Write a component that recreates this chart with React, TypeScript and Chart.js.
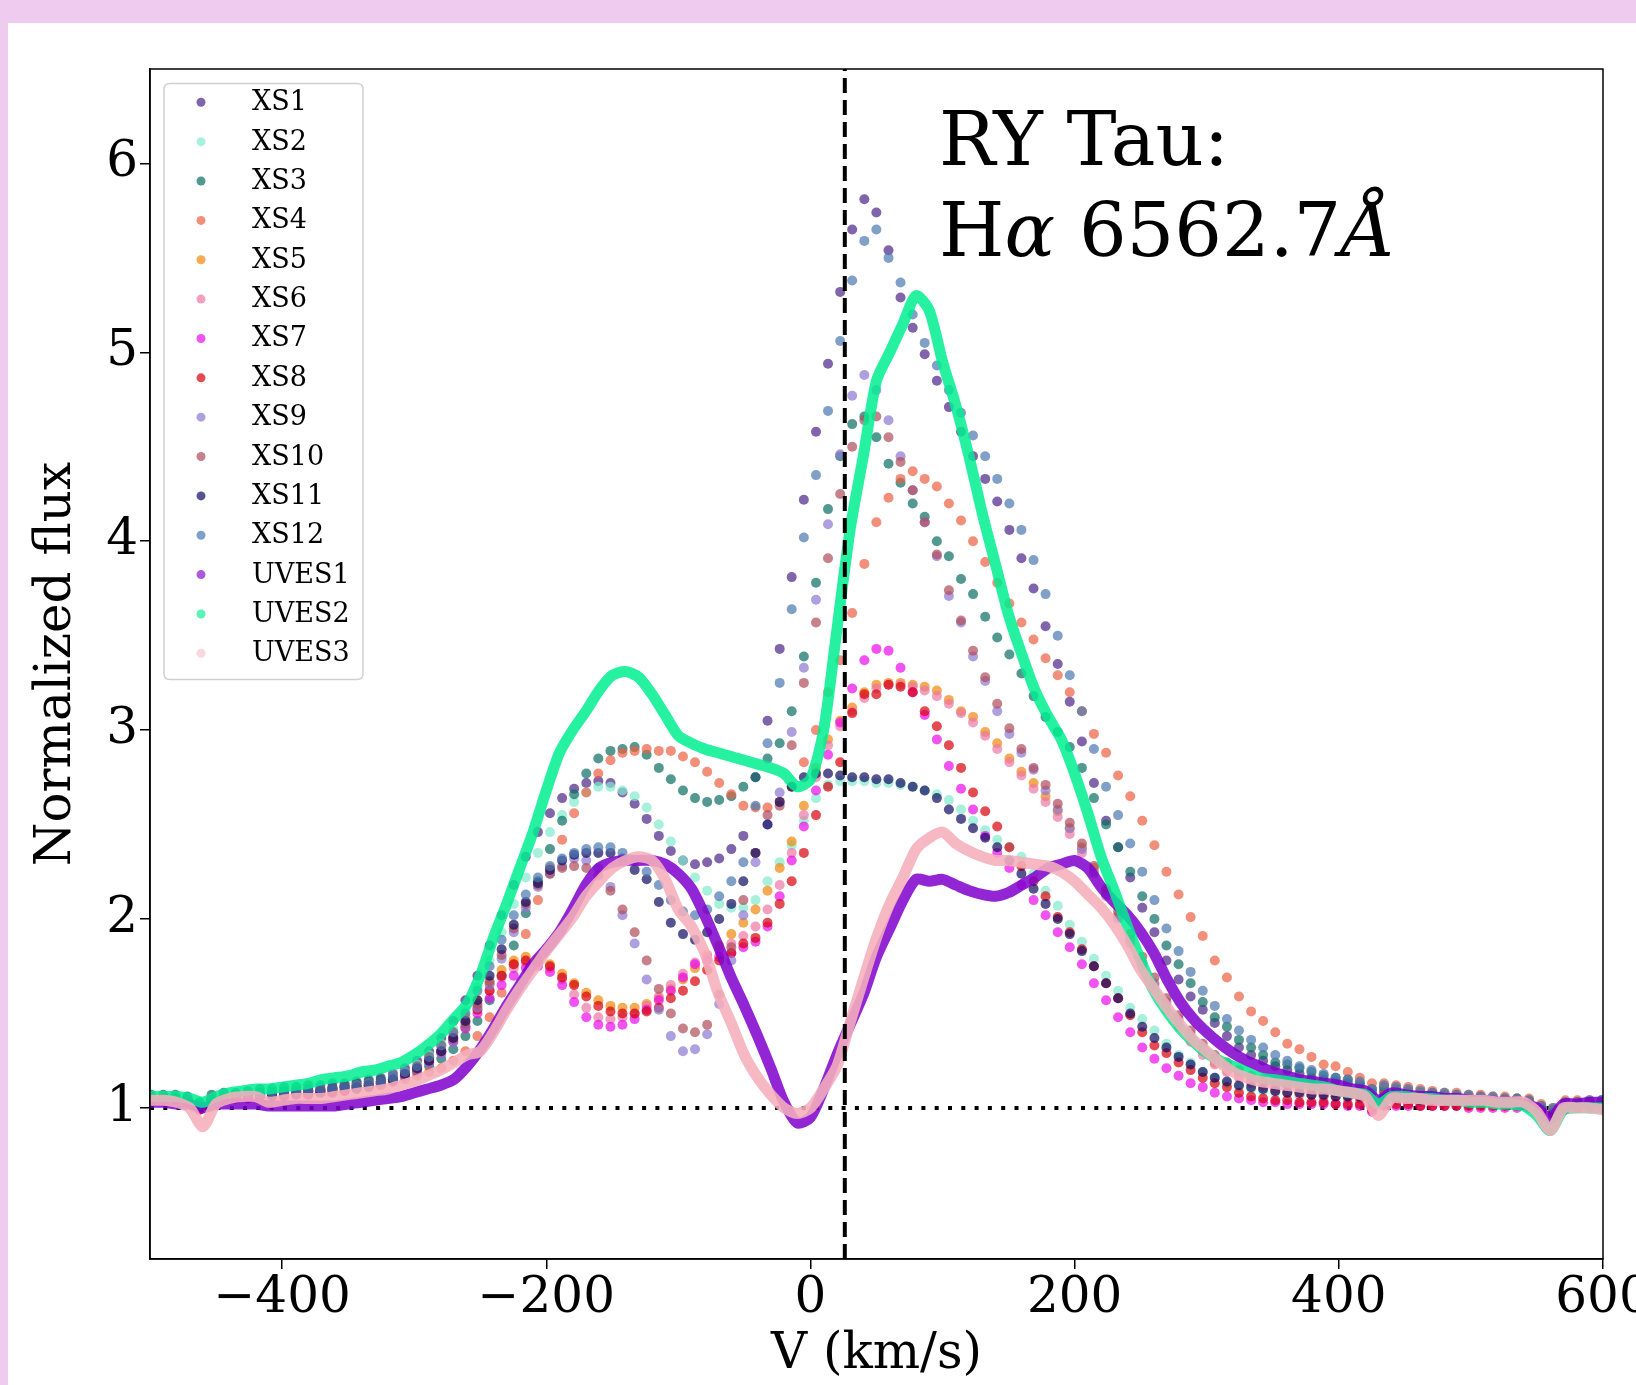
import React, { useEffect, useRef } from "react";
import { Chart, registerables } from "chart.js";

Chart.register(...registerables);

const FONT = '"DejaVu Serif", serif';

// ---------- axes ----------
const X_MIN = -500;
const X_MAX = 600;
const Y_MIN = 0.2;
const Y_MAX = 6.5;
const X_TICKS = [-400, -200, 0, 200, 400, 600];
const Y_TICKS = [1, 2, 3, 4, 5, 6];
const V_SYS = 26; // dashed vertical reference (km/s)
const CONTINUUM = 1; // dotted horizontal reference

// ---------- X-shooter velocity grid (km/s) ----------
const XS_V = [
  -499.1, -490.0, -480.8, -471.7, -462.5, -453.4, -444.2, -435.1, -425.9, -416.8,
  -407.6, -398.5, -389.3, -380.2, -371.0, -361.9, -352.7, -343.6, -334.4, -325.3,
  -316.1, -307.0, -297.8, -288.7, -279.5, -270.4, -261.2, -252.1, -242.9, -233.8,
  -224.6, -215.5, -206.3, -197.2, -188.0, -178.9, -169.7, -160.6, -151.4, -142.3,
  -133.1, -124.0, -114.8, -105.7, -96.5, -87.4, -78.2, -69.1, -59.9, -50.8,
  -41.6, -32.5, -23.3, -14.2, -5.0, 4.2, 13.3, 22.5, 31.6, 40.8,
  49.9, 59.1, 68.2, 77.4, 86.5, 95.7, 104.8, 114.0, 123.1, 132.3,
  141.4, 150.6, 159.7, 168.9, 178.0, 187.2, 196.3, 205.5, 214.6, 223.8,
  232.9, 242.1, 251.2, 260.4, 269.5, 278.7, 287.8, 297.0, 306.1, 315.3,
  324.4, 333.6, 342.7, 351.9, 361.0, 370.2, 379.3, 388.5, 397.6, 406.8,
  415.9, 425.1, 434.2, 443.4, 452.5, 461.7, 470.8, 480.0, 489.1, 498.3,
  507.4, 516.6, 525.7, 534.9, 544.0, 553.2, 562.3, 571.5, 580.6, 589.8,
  598.9,
];

const XS1 = [
  1.06, 1.06, 1.05, 1.05, 1.01, 1.05, 1.06, 1.07, 1.07, 1.08,
  1.08, 1.09, 1.09, 1.10, 1.10, 1.11, 1.12, 1.13, 1.14, 1.16,
  1.18, 1.21, 1.25, 1.30, 1.37, 1.46, 1.57, 1.70, 1.86, 2.02,
  2.18, 2.33, 2.46, 2.56, 2.64, 2.69, 2.72, 2.73, 2.72, 2.67,
  2.61, 2.53, 2.44, 2.36, 2.31, 2.29, 2.30, 2.32, 2.37, 2.44,
  2.75, 3.05, 3.43, 3.81, 4.22, 4.58, 4.94, 5.32, 5.65, 5.81,
  5.74, 5.54, 5.29, 5.13, 4.99, 4.85, 4.71, 4.58, 4.45, 4.33,
  4.21, 4.06, 3.91, 3.75, 3.55, 3.35, 3.15, 2.94, 2.72, 2.52,
  2.38, 2.22, 2.06, 1.93, 1.78, 1.68, 1.59, 1.52, 1.45, 1.38,
  1.32, 1.28, 1.25, 1.22, 1.20, 1.18, 1.16, 1.15, 1.14, 1.13,
  1.12, 1.08, 1.09, 1.09, 1.08, 1.07, 1.07, 1.06, 1.06, 1.05,
  1.05, 1.04, 1.04, 1.04, 1.03, 1.00, 0.99, 1.02, 1.03, 1.03,
  1.04,
];

const XS2 = [
  1.06, 1.06, 1.05, 1.05, 1.02, 1.05, 1.06, 1.06, 1.07, 1.07,
  1.08, 1.08, 1.09, 1.09, 1.10, 1.10, 1.11, 1.12, 1.13, 1.14,
  1.16, 1.19, 1.23, 1.28, 1.34, 1.42, 1.52, 1.64, 1.78, 1.93,
  2.08, 2.22, 2.35, 2.46, 2.55, 2.62, 2.67, 2.70, 2.70, 2.68,
  2.65, 2.59, 2.50, 2.41, 2.31, 2.22, 2.15, 2.08, 2.06, 2.06,
  2.10, 2.20, 2.30, 2.39, 2.52, 2.64, 2.71, 2.73, 2.73, 2.73,
  2.72, 2.72, 2.71, 2.70, 2.68, 2.66, 2.63, 2.58, 2.52, 2.47,
  2.42, 2.38, 2.33, 2.24, 2.15, 2.07, 1.97, 1.88, 1.79, 1.70,
  1.62, 1.53, 1.47, 1.41, 1.34, 1.28, 1.24, 1.19, 1.16, 1.13,
  1.11, 1.10, 1.09, 1.08, 1.08, 1.07, 1.07, 1.06, 1.06, 1.06,
  1.05, 1.02, 1.05, 1.04, 1.04, 1.04, 1.04, 1.03, 1.03, 1.03,
  1.03, 1.03, 1.02, 1.02, 1.02, 0.98, 0.96, 1.01, 1.02, 1.02,
  1.02,
];

const XS3 = [
  1.07, 1.07, 1.07, 1.06, 1.03, 1.07, 1.08, 1.08, 1.09, 1.10,
  1.10, 1.11, 1.11, 1.12, 1.12, 1.13, 1.13, 1.14, 1.15, 1.15,
  1.16, 1.17, 1.19, 1.22, 1.26, 1.31, 1.38, 1.46, 1.57, 1.70,
  1.86, 2.03, 2.20, 2.37, 2.52, 2.66, 2.77, 2.85, 2.89, 2.90,
  2.91, 2.87, 2.80, 2.74, 2.68, 2.64, 2.62, 2.63, 2.65, 2.70,
  2.75, 2.85, 2.93, 3.10, 3.39, 3.78, 4.17, 4.45, 4.62, 4.66,
  4.55, 4.41, 4.31, 4.20, 4.13, 4.00, 3.92, 3.80, 3.72, 3.60,
  3.49, 3.40, 3.30, 3.18, 3.07, 2.99, 2.91, 2.80, 2.64, 2.50,
  2.38, 2.25, 2.12, 2.00, 1.86, 1.76, 1.66, 1.56, 1.48, 1.43,
  1.36, 1.32, 1.28, 1.24, 1.23, 1.21, 1.19, 1.17, 1.16, 1.15,
  1.13, 1.10, 1.11, 1.10, 1.09, 1.08, 1.08, 1.07, 1.07, 1.06,
  1.06, 1.05, 1.05, 1.05, 1.04, 1.01, 0.99, 1.03, 1.03, 1.03,
  1.03,
];

const XS4 = [
  1.05, 1.05, 1.05, 1.04, 1.01, 1.05, 1.06, 1.06, 1.06, 1.07,
  1.07, 1.08, 1.08, 1.09, 1.09, 1.10, 1.11, 1.11, 1.12, 1.13,
  1.14, 1.15, 1.17, 1.19, 1.21, 1.25, 1.30, 1.38, 1.48, 1.61,
  1.76, 1.92, 2.10, 2.27, 2.42, 2.56, 2.67, 2.77, 2.84, 2.88,
  2.89, 2.90, 2.89, 2.89, 2.86, 2.83, 2.78, 2.72, 2.66, 2.60,
  2.59, 2.59, 2.62, 2.70, 2.83, 3.00, 3.20, 3.37, 3.62, 3.88,
  4.10, 4.23, 4.33, 4.37, 4.33, 4.29, 4.20, 4.11, 4.00, 3.89,
  3.78, 3.67, 3.57, 3.48, 3.38, 3.29, 3.20, 3.10, 2.98, 2.88,
  2.76, 2.65, 2.52, 2.39, 2.25, 2.13, 2.01, 1.91, 1.78, 1.69,
  1.59, 1.51, 1.46, 1.40, 1.34, 1.31, 1.27, 1.23, 1.22, 1.19,
  1.16, 1.13, 1.13, 1.12, 1.11, 1.10, 1.09, 1.08, 1.08, 1.07,
  1.07, 1.06, 1.06, 1.05, 1.05, 1.02, 1.00, 1.04, 1.04, 1.04,
  1.03,
];

const XS5 = [
  1.05, 1.05, 1.05, 1.04, 1.00, 1.05, 1.05, 1.06, 1.06, 1.06,
  1.07, 1.07, 1.08, 1.08, 1.09, 1.09, 1.10, 1.11, 1.12, 1.13,
  1.15, 1.18, 1.22, 1.27, 1.33, 1.40, 1.48, 1.57, 1.66, 1.73,
  1.78, 1.80, 1.79, 1.76, 1.71, 1.66, 1.61, 1.57, 1.54, 1.53,
  1.53, 1.55, 1.58, 1.63, 1.68, 1.74, 1.80, 1.86, 1.92, 1.98,
  2.05, 2.15, 2.27, 2.41, 2.60, 2.80, 2.95, 3.05, 3.12, 3.20,
  3.24, 3.25, 3.25, 3.24, 3.23, 3.21, 3.16, 3.10, 3.07, 2.99,
  2.93, 2.85, 2.78, 2.72, 2.65, 2.57, 2.48, 2.38, 2.27, 2.15,
  2.02, 1.89, 1.77, 1.65, 1.54, 1.45, 1.37, 1.30, 1.24, 1.20,
  1.17, 1.14, 1.12, 1.10, 1.09, 1.08, 1.07, 1.07, 1.06, 1.06,
  1.05, 1.02, 1.05, 1.04, 1.04, 1.04, 1.03, 1.03, 1.03, 1.03,
  1.03, 1.02, 1.02, 1.02, 1.02, 0.99, 0.98, 1.01, 1.02, 1.02,
  1.02,
];

const XS6 = [
  1.05, 1.05, 1.04, 1.04, 1.00, 1.04, 1.05, 1.05, 1.06, 1.06,
  1.06, 1.07, 1.07, 1.08, 1.08, 1.09, 1.09, 1.10, 1.11, 1.13,
  1.15, 1.18, 1.21, 1.25, 1.31, 1.38, 1.46, 1.54, 1.62, 1.69,
  1.74, 1.77, 1.77, 1.74, 1.68, 1.60, 1.53, 1.48, 1.47, 1.48,
  1.50, 1.54, 1.59, 1.65, 1.71, 1.77, 1.81, 1.84, 1.87, 1.91,
  1.96, 2.05, 2.18, 2.35, 2.55, 2.75, 2.92, 3.02, 3.10, 3.17,
  3.22, 3.24, 3.24, 3.23, 3.21, 3.18, 3.14, 3.09, 3.04, 2.97,
  2.90, 2.83, 2.76, 2.69, 2.62, 2.54, 2.45, 2.35, 2.24, 2.12,
  2.00, 1.87, 1.75, 1.63, 1.52, 1.43, 1.35, 1.28, 1.23, 1.19,
  1.16, 1.13, 1.11, 1.09, 1.08, 1.07, 1.07, 1.06, 1.06, 1.05,
  1.05, 1.01, 1.04, 1.04, 1.04, 1.03, 1.03, 1.03, 1.03, 1.02,
  1.02, 1.02, 1.02, 1.02, 1.01, 0.98, 0.97, 1.01, 1.01, 1.02,
  1.02,
];

const XS7 = [
  1.04, 1.04, 1.04, 1.03, 0.99, 1.04, 1.04, 1.05, 1.05, 1.06,
  1.06, 1.06, 1.07, 1.07, 1.08, 1.08, 1.09, 1.10, 1.11, 1.13,
  1.15, 1.17, 1.20, 1.24, 1.29, 1.35, 1.42, 1.50, 1.58, 1.65,
  1.70, 1.74, 1.75, 1.72, 1.65, 1.56, 1.48, 1.44, 1.43, 1.44,
  1.47, 1.52, 1.57, 1.62, 1.69, 1.76, 1.78, 1.80, 1.82, 1.85,
  1.88, 1.96, 2.12, 2.31, 2.49, 2.68, 2.87, 3.04, 3.22, 3.37,
  3.43, 3.42, 3.33, 3.20, 3.08, 2.95, 2.81, 2.69, 2.58, 2.44,
  2.35, 2.27, 2.18, 2.10, 2.02, 1.93, 1.85, 1.76, 1.66, 1.57,
  1.48, 1.40, 1.32, 1.26, 1.21, 1.17, 1.13, 1.11, 1.08, 1.06,
  1.05, 1.04, 1.03, 1.03, 1.02, 1.02, 1.02, 1.02, 1.02, 1.01,
  1.01, 0.98, 1.01, 1.01, 1.01, 1.01, 1.01, 1.01, 1.01, 1.00,
  1.00, 1.00, 1.00, 1.00, 1.00, 0.97, 0.96, 0.99, 1.00, 1.00,
  1.00,
];

const XS8 = [
  1.04, 1.04, 1.04, 1.03, 0.99, 1.04, 1.05, 1.05, 1.05, 1.06,
  1.06, 1.06, 1.07, 1.07, 1.08, 1.08, 1.09, 1.10, 1.11, 1.12,
  1.14, 1.17, 1.20, 1.25, 1.30, 1.36, 1.43, 1.52, 1.62, 1.70,
  1.76, 1.78, 1.77, 1.75, 1.69, 1.65, 1.59, 1.54, 1.51, 1.50,
  1.50, 1.51, 1.53, 1.58, 1.62, 1.67, 1.73, 1.78, 1.82, 1.87,
  1.90, 1.98, 2.08, 2.20, 2.35, 2.55, 2.70, 2.83, 3.09, 3.19,
  3.19, 3.24, 3.23, 3.20, 3.10, 3.02, 2.92, 2.80, 2.67, 2.57,
  2.49, 2.38, 2.28, 2.20, 2.12, 2.01, 1.93, 1.84, 1.75, 1.66,
  1.58, 1.49, 1.40, 1.33, 1.29, 1.24, 1.20, 1.16, 1.13, 1.11,
  1.08, 1.06, 1.05, 1.04, 1.04, 1.03, 1.03, 1.03, 1.02, 1.02,
  1.02, 0.99, 1.02, 1.02, 1.02, 1.01, 1.01, 1.01, 1.01, 1.01,
  1.01, 1.01, 1.01, 1.01, 1.01, 0.98, 0.97, 1.00, 1.00, 1.01,
  1.01,
];

const XS9 = [
  1.05, 1.05, 1.05, 1.04, 1.01, 1.05, 1.05, 1.06, 1.06, 1.07,
  1.07, 1.08, 1.08, 1.09, 1.09, 1.10, 1.11, 1.11, 1.12, 1.13,
  1.15, 1.17, 1.20, 1.24, 1.29, 1.35, 1.43, 1.53, 1.65, 1.79,
  1.93, 2.06, 2.17, 2.24, 2.28, 2.32, 2.31, 2.27, 2.17, 2.02,
  1.87, 1.68, 1.52, 1.38, 1.30, 1.31, 1.39, 1.55, 1.78, 2.02,
  2.30, 2.50, 2.67, 2.99, 3.33, 3.69, 4.09, 4.46, 4.77, 4.88,
  4.80, 4.64, 4.45, 4.27, 4.10, 3.92, 3.71, 3.57, 3.39, 3.26,
  3.10, 2.98, 2.88, 2.79, 2.68, 2.58, 2.48, 2.37, 2.25, 2.13,
  2.01, 1.89, 1.77, 1.66, 1.56, 1.47, 1.39, 1.32, 1.27, 1.23,
  1.19, 1.16, 1.14, 1.12, 1.11, 1.10, 1.09, 1.08, 1.08, 1.07,
  1.07, 1.04, 1.06, 1.06, 1.05, 1.05, 1.05, 1.04, 1.04, 1.04,
  1.04, 1.03, 1.03, 1.03, 1.03, 1.00, 0.98, 1.02, 1.02, 1.03,
  1.03,
];

const XS10 = [
  1.06, 1.06, 1.05, 1.05, 1.01, 1.05, 1.06, 1.06, 1.07, 1.07,
  1.08, 1.08, 1.09, 1.09, 1.10, 1.10, 1.11, 1.12, 1.13, 1.14,
  1.15, 1.18, 1.21, 1.25, 1.30, 1.37, 1.45, 1.55, 1.67, 1.81,
  1.95, 2.08, 2.18, 2.24, 2.27, 2.28, 2.27, 2.23, 2.15, 2.05,
  1.93, 1.78, 1.63, 1.50, 1.42, 1.40, 1.44, 1.60, 1.85, 2.10,
  2.35, 2.55, 2.60, 2.92, 3.25, 3.57, 3.91, 4.25, 4.50, 4.64,
  4.66, 4.55, 4.42, 4.27, 4.10, 3.93, 3.74, 3.58, 3.42, 3.28,
  3.14, 3.01, 2.90, 2.80, 2.71, 2.61, 2.51, 2.40, 2.28, 2.16,
  2.04, 1.92, 1.80, 1.69, 1.58, 1.49, 1.41, 1.34, 1.28, 1.24,
  1.20, 1.17, 1.15, 1.13, 1.12, 1.11, 1.10, 1.09, 1.08, 1.08,
  1.07, 1.04, 1.07, 1.06, 1.06, 1.05, 1.05, 1.05, 1.04, 1.04,
  1.04, 1.04, 1.03, 1.03, 1.03, 1.00, 0.98, 1.02, 1.03, 1.03,
  1.03,
];

const XS11 = [
  1.05, 1.05, 1.05, 1.04, 1.00, 1.04, 1.05, 1.06, 1.06, 1.07,
  1.07, 1.08, 1.08, 1.09, 1.09, 1.10, 1.11, 1.11, 1.12, 1.14,
  1.15, 1.18, 1.21, 1.25, 1.30, 1.37, 1.46, 1.57, 1.70, 1.84,
  1.97, 2.09, 2.19, 2.26, 2.31, 2.34, 2.35, 2.35, 2.35, 2.32,
  2.26, 2.21, 2.09, 1.98, 1.92, 1.89, 1.93, 2.00, 2.08, 2.20,
  2.35, 2.50, 2.62, 2.70, 2.75, 2.77, 2.77, 2.76, 2.75, 2.75,
  2.74, 2.74, 2.72, 2.70, 2.68, 2.64, 2.58, 2.53, 2.48, 2.43,
  2.38, 2.31, 2.24, 2.16, 2.08, 2.00, 1.92, 1.83, 1.75, 1.66,
  1.58, 1.50, 1.43, 1.37, 1.32, 1.27, 1.23, 1.19, 1.16, 1.14,
  1.12, 1.11, 1.10, 1.09, 1.08, 1.08, 1.07, 1.07, 1.06, 1.06,
  1.06, 1.03, 1.05, 1.05, 1.05, 1.04, 1.04, 1.04, 1.04, 1.03,
  1.03, 1.03, 1.03, 1.02, 1.02, 0.99, 0.97, 1.01, 1.02, 1.02,
  1.02,
];

const XS12 = [
  1.05, 1.05, 1.05, 1.04, 1.02, 1.05, 1.06, 1.06, 1.07, 1.07,
  1.08, 1.08, 1.09, 1.09, 1.10, 1.10, 1.11, 1.12, 1.13, 1.14,
  1.16, 1.19, 1.22, 1.27, 1.33, 1.40, 1.50, 1.62, 1.75, 1.89,
  2.02, 2.13, 2.22, 2.28, 2.32, 2.35, 2.37, 2.38, 2.38, 2.35,
  2.31, 2.25, 2.18, 2.10, 2.04, 2.02, 2.05, 2.12, 2.20, 2.30,
  2.60, 2.93, 3.25, 3.64, 4.02, 4.35, 4.69, 5.06, 5.38, 5.59,
  5.65, 5.50, 5.37, 5.20, 5.05, 4.93, 4.80, 4.68, 4.56, 4.45,
  4.33, 4.20, 4.06, 3.90, 3.72, 3.50, 3.29, 3.10, 2.90, 2.70,
  2.55, 2.40, 2.25, 2.10, 1.95, 1.83, 1.72, 1.62, 1.54, 1.47,
  1.41, 1.36, 1.32, 1.28, 1.25, 1.22, 1.20, 1.18, 1.16, 1.15,
  1.14, 1.10, 1.12, 1.11, 1.10, 1.09, 1.08, 1.08, 1.07, 1.07,
  1.06, 1.06, 1.05, 1.05, 1.04, 1.01, 1.00, 1.03, 1.03, 1.04,
  1.04,
];

// ---------- UVES velocity grid (km/s) ----------
const UVES_V = [
  -500, -490, -480, -470, -460, -450, -440, -430, -420, -410,
  -400, -390, -380, -370, -360, -350, -340, -330, -320, -310,
  -300, -290, -280, -270, -260, -250, -240, -230, -220, -210,
  -200, -190, -180, -170, -160, -150, -140, -130, -120, -110,
  -100, -90, -80, -70, -60, -50, -40, -30, -20, -10,
  0, 10, 20, 30, 40, 50, 60, 70, 80, 90,
  100, 110, 120, 130, 140, 150, 160, 170, 180, 190,
  200, 210, 220, 230, 240, 250, 260, 270, 280, 290,
  300, 310, 320, 330, 340, 350, 360, 370, 380, 390,
  400, 410, 420, 430, 440, 450, 460, 470, 480, 490,
  500, 510, 520, 530, 540, 550, 560, 570, 580, 590,
  600,
];

const UVES1 = [
  1.03, 1.03, 1.02, 1.02, 1.00, 1.02, 1.02, 1.02, 1.02, 1.01,
  1.01, 1.01, 1.01, 1.01, 1.01, 1.02, 1.03, 1.04, 1.05, 1.06,
  1.08, 1.10, 1.12, 1.15, 1.22, 1.31, 1.42, 1.54, 1.65, 1.76,
  1.84, 1.93, 2.05, 2.18, 2.27, 2.30, 2.31, 2.31, 2.31, 2.29,
  2.24, 2.16, 2.02, 1.86, 1.69, 1.54, 1.38, 1.21, 1.03, 0.92,
  0.95, 1.10, 1.28, 1.44, 1.60, 1.80, 1.95, 2.10, 2.21, 2.20,
  2.21, 2.18, 2.15, 2.13, 2.12, 2.14, 2.18, 2.22, 2.27, 2.29,
  2.31, 2.27, 2.17, 2.09, 2.02, 1.93, 1.82, 1.68, 1.56, 1.47,
  1.40, 1.34, 1.29, 1.25, 1.22, 1.19, 1.17, 1.15, 1.14, 1.13,
  1.12, 1.10, 1.09, 1.04, 1.08, 1.07, 1.06, 1.06, 1.05, 1.05,
  1.04, 1.04, 1.03, 1.03, 1.02, 1.00, 0.94, 1.02, 1.02, 1.03,
  1.03,
];

const UVES2 = [
  1.06, 1.06, 1.06, 1.05, 1.03, 1.06, 1.08, 1.09, 1.10, 1.10,
  1.11, 1.12, 1.13, 1.15, 1.16, 1.17, 1.19, 1.20, 1.22, 1.24,
  1.28, 1.33, 1.39, 1.47, 1.55, 1.70, 1.90, 2.08, 2.27, 2.46,
  2.68, 2.88, 3.00, 3.10, 3.21, 3.29, 3.31, 3.28, 3.19, 3.08,
  2.97, 2.93, 2.90, 2.88, 2.86, 2.84, 2.82, 2.80, 2.77, 2.70,
  2.74, 3.00, 3.53, 4.06, 4.45, 4.85, 5.00, 5.15, 5.30, 5.22,
  4.95, 4.72, 4.45, 4.15, 3.88, 3.61, 3.40, 3.21, 3.07, 2.95,
  2.77, 2.56, 2.33, 2.15, 1.96, 1.78, 1.62, 1.51, 1.42, 1.35,
  1.29, 1.25, 1.22, 1.19, 1.16, 1.15, 1.14, 1.13, 1.12, 1.11,
  1.09, 1.08, 1.07, 1.02, 1.06, 1.06, 1.05, 1.05, 1.04, 1.04,
  1.03, 1.03, 1.02, 1.02, 1.01, 0.96, 0.88, 0.99, 1.00, 1.00,
  1.00,
];

const UVES3 = [
  1.04, 1.04, 1.03, 1.00, 0.90, 1.02, 1.05, 1.06, 1.06, 1.03,
  1.04, 1.05, 1.05, 1.05, 1.06, 1.07, 1.08, 1.09, 1.10, 1.12,
  1.14, 1.17, 1.20, 1.24, 1.28, 1.30, 1.40, 1.52, 1.63, 1.73,
  1.83, 1.92, 2.01, 2.12, 2.20, 2.27, 2.31, 2.33, 2.31, 2.21,
  2.05, 1.96, 1.82, 1.61, 1.45, 1.28, 1.16, 1.07, 1.00, 0.97,
  1.00, 1.10, 1.22, 1.45, 1.68, 1.90, 2.08, 2.22, 2.37, 2.43,
  2.46, 2.40, 2.36, 2.33, 2.31, 2.31, 2.30, 2.29, 2.28, 2.25,
  2.20, 2.13, 2.06, 1.97, 1.86, 1.73, 1.63, 1.53, 1.44, 1.36,
  1.30, 1.24, 1.19, 1.16, 1.14, 1.13, 1.12, 1.11, 1.10, 1.10,
  1.09, 1.08, 1.06, 0.96, 1.05, 1.05, 1.05, 1.04, 1.04, 1.04,
  1.04, 1.04, 1.03, 1.03, 1.03, 0.98, 0.88, 1.00, 1.00, 1.00,
  0.99,
];

const XS_NAMES = ["XS1", "XS2", "XS3", "XS4", "XS5", "XS6", "XS7", "XS8", "XS9", "XS10", "XS11", "XS12"];
const UVES_NAMES = ["UVES1", "UVES2", "UVES3"];
const XS_SERIES = [XS1, XS2, XS3, XS4, XS5, XS6, XS7, XS8, XS9, XS10, XS11, XS12];
const UVES_SERIES = [UVES1, UVES2, UVES3];

// ---------- styles ----------
const XS_COLORS = [
  "rgba(75,35,135,0.7)",
  "rgba(130,235,205,0.7)",
  "rgba(10,110,100,0.7)",
  "rgba(235,95,65,0.7)",
  "rgba(240,135,10,0.7)",
  "rgba(235,120,165,0.7)",
  "rgba(235,10,235,0.7)",
  "rgba(215,0,10,0.7)",
  "rgba(140,120,210,0.7)",
  "rgba(175,75,90,0.7)",
  "rgba(15,10,95,0.7)",
  "rgba(75,120,175,0.7)",
];
const UVES_COLORS = ["rgba(128,0,205,0.85)", "rgba(0,238,145,0.85)", "rgba(245,175,188,0.88)"];
const UVES_LEGEND_COLORS = ["rgba(128,0,205,0.65)", "rgba(0,238,145,0.65)", "rgba(245,175,188,0.5)"];

const fmtTick = (v: number) => (v < 0 ? "\u2212" + Math.abs(v) : String(v));

const overlayPlugin = {
  id: "overlay",
  afterDraw(chart: any) {
    const { ctx, chartArea: a } = chart;
    ctx.save();
    // full frame (matplotlib spines)
    ctx.strokeStyle = "#000";
    ctx.lineWidth = 1.5;
    ctx.strokeRect(a.left, a.top, a.right - a.left, a.bottom - a.top);

    // legend box
    const bx = a.left + 14;
    const by = a.top + 14.5;
    const bw = 199;
    const bh = 596;
    const r = 6;
    ctx.beginPath();
    ctx.moveTo(bx + r, by);
    ctx.lineTo(bx + bw - r, by);
    ctx.quadraticCurveTo(bx + bw, by, bx + bw, by + r);
    ctx.lineTo(bx + bw, by + bh - r);
    ctx.quadraticCurveTo(bx + bw, by + bh, bx + bw - r, by + bh);
    ctx.lineTo(bx + r, by + bh);
    ctx.quadraticCurveTo(bx, by + bh, bx, by + bh - r);
    ctx.lineTo(bx, by + r);
    ctx.quadraticCurveTo(bx, by, bx + r, by);
    ctx.closePath();
    ctx.fillStyle = "rgba(255,255,255,0.85)";
    ctx.fill();
    ctx.strokeStyle = "#d0d0d0";
    ctx.lineWidth = 1.5;
    ctx.stroke();

    const names = [...XS_NAMES, ...UVES_NAMES];
    const cols = [...XS_COLORS, ...UVES_LEGEND_COLORS];
    ctx.font = `27px ${FONT}`;
    ctx.textBaseline = "middle";
    ctx.textAlign = "left";
    names.forEach((n, i) => {
      const y = a.top + 33.3 + i * 39.36;
      ctx.beginPath();
      ctx.arc(a.left + 51, y, 4.5, 0, Math.PI * 2);
      ctx.fillStyle = cols[i];
      ctx.fill();
      ctx.fillStyle = "#000";
      ctx.fillText(n, a.left + 102, y + 1);
    });

    // annotation
    ctx.fillStyle = "#000";
    ctx.textBaseline = "alphabetic";
    const tx = a.left + 789;
    ctx.font = `75px ${FONT}`;
    ctx.fillText("RY Tau:", tx, a.top + 96);
    let x = tx;
    const y2 = a.top + 187;
    const seg = (t: string, italic: boolean) => {
      ctx.font = `${italic ? "italic " : ""}75px ${FONT}`;
      ctx.fillText(t, x, y2);
      x += ctx.measureText(t).width;
    };
    seg("H", false);
    seg("\u03B1", true);
    seg(" 6562.7", false);
    seg("\u00C5", true);
    ctx.restore();
  },
};

export default function App() {
  const ref = useRef<HTMLCanvasElement | null>(null);

  useEffect(() => {
    if (!ref.current) return;
    const datasets: any[] = [];
    datasets.push({
      label: "continuum",
      data: [
        { x: X_MIN, y: CONTINUUM },
        { x: X_MAX, y: CONTINUUM },
      ],
      showLine: true,
      borderColor: "#000",
      borderWidth: 4,
      borderDash: [4, 9.3],
      pointRadius: 0,
      order: 16,
      clip: 0,
    });
    XS_SERIES.forEach((ys, k) => {
      datasets.push({
        label: XS_NAMES[k],
        data: ys.map((y, i) => ({ x: XS_V[i], y })),
        showLine: false,
        pointRadius: 5,
        pointHoverRadius: 5,
        pointBackgroundColor: XS_COLORS[k],
        pointBorderWidth: 0,
        order: 15 - k,
        clip: 0,
      });
    });
    UVES_SERIES.forEach((ys, k) => {
      datasets.push({
        label: UVES_NAMES[k],
        data: ys.map((y, i) => ({ x: UVES_V[i], y })),
        showLine: true,
        borderColor: UVES_COLORS[k],
        borderWidth: 11,
        borderCapStyle: "round",
        borderJoinStyle: "round",
        tension: 0.25,
        pointRadius: 0,
        order: 3 - k,
        clip: 0,
      });
    });
    datasets.push({
      label: "vsys",
      data: [
        { x: V_SYS, y: Y_MIN },
        { x: V_SYS, y: Y_MAX },
      ],
      showLine: true,
      borderColor: "#000",
      borderWidth: 4,
      borderDash: [15, 7],
      pointRadius: 0,
      order: 0,
      clip: 0,
    });

    const tickFont = { family: FONT, size: 50 };
    const chart = new Chart(ref.current, {
      type: "scatter",
      data: { datasets },
      options: {
        animation: false,
        responsive: false,
        devicePixelRatio: 1,
        events: [],
        layout: { padding: { left: 0, top: 69, right: 97, bottom: 0 } },
        plugins: { legend: { display: false }, tooltip: { enabled: false } },
        scales: {
          x: {
            type: "linear",
            min: X_MIN,
            max: X_MAX,
            afterBuildTicks: (s: any) => {
              s.ticks = X_TICKS.map((v) => ({ value: v }));
            },
            afterFit: (s: any) => {
              s.height = 126;
            },
            ticks: { font: tickFont, color: "#000", padding: 0, maxRotation: 0, callback: (v: any) => fmtTick(Number(v)) },
            grid: { drawOnChartArea: false, tickLength: 10, tickColor: "#000", tickWidth: 1.5, color: "#000", lineWidth: 1.5 },
            border: { color: "#000", width: 1.5 },
            title: { display: true, text: "V (km/s)", font: tickFont, color: "#000", padding: { top: 0, bottom: 0 } },
          },
          y: {
            type: "linear",
            min: Y_MIN,
            max: Y_MAX,
            afterBuildTicks: (s: any) => {
              s.ticks = Y_TICKS.map((v) => ({ value: v }));
            },
            afterFit: (s: any) => {
              s.width = 150;
            },
            ticks: { font: tickFont, color: "#000", padding: 2, callback: (v: any) => fmtTick(Number(v)) },
            grid: { drawOnChartArea: false, tickLength: 10, tickColor: "#000", tickWidth: 1.5, color: "#000", lineWidth: 1.5 },
            border: { color: "#000", width: 1.5 },
            title: { display: true, text: "Normalized flux", font: tickFont, color: "#000", padding: { top: 27, bottom: 0 } },
          },
        },
      } as any,
      plugins: [overlayPlugin],
    });
    return () => chart.destroy();
  }, []);

  return (
    <div style={{ position: "fixed", left: 0, top: 0, right: 0, bottom: 0, background: "#efcbef", overflow: "hidden" }}>
      <div style={{ position: "absolute", left: 8, top: 23, width: 1800, height: 1500, background: "#ffffff" }} />
      <canvas ref={ref} width={1700} height={1385} style={{ position: "absolute", left: 0, top: 0, display: "block" }} />
    </div>
  );
}
